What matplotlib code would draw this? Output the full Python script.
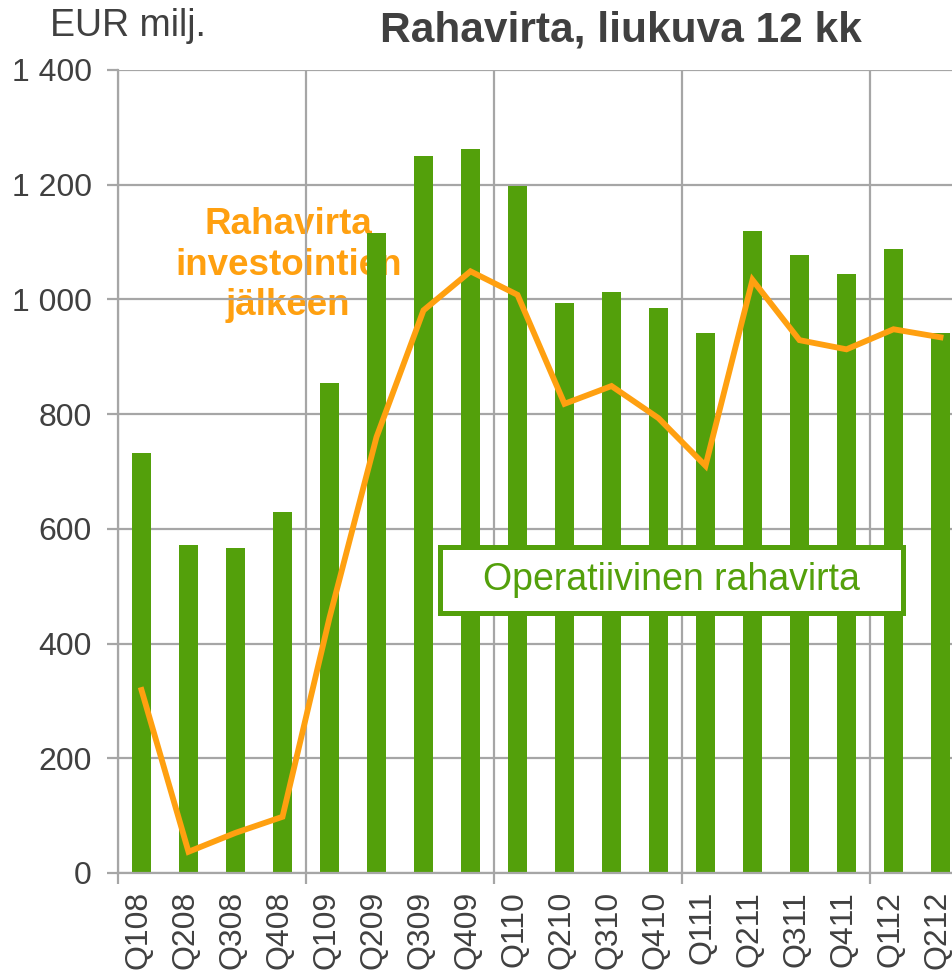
import matplotlib
matplotlib.use("Agg")
import matplotlib.pyplot as plt
from matplotlib.patches import Rectangle
from matplotlib.ticker import FuncFormatter, FixedLocator
from matplotlib.transforms import ScaledTranslation

plt.rcParams['font.family'] = ['Liberation Sans', 'DejaVu Sans']

quarters = ["Q108", "Q208", "Q308", "Q408", "Q109", "Q209", "Q309", "Q409",
            "Q110", "Q210", "Q310", "Q410", "Q111", "Q211", "Q311", "Q411",
            "Q112", "Q212"]
operating_cf = [732, 572, 567, 629, 854, 1116, 1250, 1262, 1198, 994, 1013,
                985, 941, 1119, 1077, 1044, 1088, 941]
cf_after_inv = [319, 37, 70, 98, 445, 760, 981, 1049, 1008, 818, 849, 793,
                710, 1034, 929, 913, 948, 934]
y_ticks = [0, 200, 400, 600, 800, 1000, 1200, 1400]

GREEN = "#53A00B"
ORANGE = "#FFA010"
GRID = "#A6A6A6"
TEXT = "#404040"

W, H = 953, 973
fig = plt.figure(figsize=(W / 100, H / 100), dpi=100)
left, right, bottom, top = 118, 953, 873, 70
ax = fig.add_axes([left / W, 1 - bottom / H, (right - left) / W, (bottom - top) / H])

x = list(range(len(quarters)))
ax.bar(x, operating_cf, width=0.39, color=GREEN, zorder=2)
ax.plot(x, cf_after_inv, color=ORANGE, lw=4.2, zorder=3, solid_joinstyle='miter')

spacing = 47
ax.set_xlim(-0.5, (right - left) / spacing - 0.5)
ax.set_ylim(0, 1400)

ax.set_yticks(y_ticks)
ax.yaxis.set_major_formatter(FuncFormatter(lambda v, p: f"{int(v):,}".replace(",", " ")))
ax.grid(axis='y', color=GRID, lw=1.6, zorder=1)

year_bounds = [i - 0.5 for i in range(0, len(quarters), 4)]
ax.xaxis.set_major_locator(FixedLocator(year_bounds))
ax.xaxis.set_minor_locator(FixedLocator(x))
ax.set_xticklabels([""] * len(year_bounds))
ax.set_xticks(x, quarters, minor=True)
ax.grid(axis='x', which='major', color=GRID, lw=1.6, zorder=1)
ax.tick_params(axis='x', which='major', length=8, width=1.6, color=GRID)
ax.tick_params(axis='x', which='minor', length=0, labelsize=23, labelcolor=TEXT,
               rotation=90, pad=13)
ax.tick_params(axis='y', length=8, width=1.6, color=GRID, labelsize=23,
               labelcolor=TEXT, pad=11)
shift = ScaledTranslation(-3 / 100, 0, fig.dpi_scale_trans)
for lbl in ax.get_xticklabels(minor=True):
    lbl.set_transform(lbl.get_transform() + shift)

for s in ['top', 'right']:
    ax.spines[s].set_visible(False)
for s in ['left', 'bottom']:
    ax.spines[s].set_color(GRID)
    ax.spines[s].set_linewidth(1.6)

ax.text(3.12, 1060, "Rahavirta\ninvestointien\njälkeen", color=ORANGE,
        fontsize=26.5, fontweight='bold', ha='center', va='center',
        linespacing=1.2, zorder=0.5)

ax.add_patch(Rectangle((6.35, 453), 9.85, 115, facecolor='white',
                       edgecolor=GREEN, lw=3.6, zorder=4))
ax.text(11.28, 511, "Operatiivinen rahavirta", color=GREEN, fontsize=27,
        ha='center', va='center', zorder=5)

fig.text(50 / W, 1 - 26 / H, "EUR milj.", color=TEXT, fontsize=27,
         ha='left', va='center')
fig.text(621 / W, 1 - 31 / H, "Rahavirta, liukuva 12 kk", color=TEXT,
         fontsize=30.5, fontweight='bold', ha='center', va='center')

fig.savefig("out.png", dpi=100)
